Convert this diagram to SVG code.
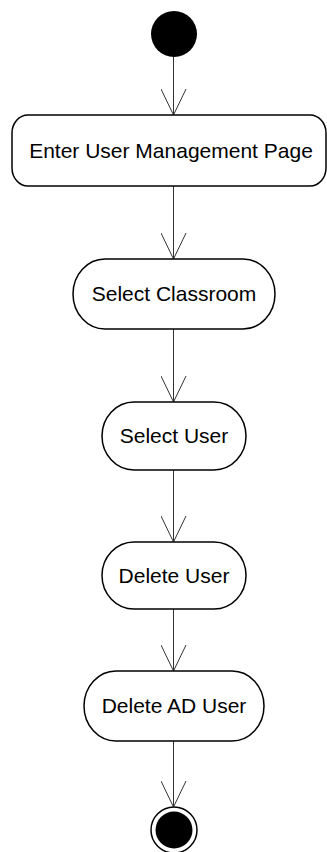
<svg xmlns="http://www.w3.org/2000/svg" width="327" height="852" viewBox="0 0 327 852">
<style>
.node{fill:#fff;stroke:#000;stroke-width:1.5}
.lbl{font-family:"Liberation Sans",Arial,sans-serif;font-size:21px;fill:#000;text-anchor:middle}
.edge{fill:none;stroke:#333;stroke-width:1}
</style>
<defs>
<marker id="open" viewBox="0 0 28 26" refX="27" refY="13" markerWidth="28" markerHeight="26" markerUnits="userSpaceOnUse" orient="auto">
<path d="M1,0.5 L27,13 L1,25.5" fill="none" stroke="#333" stroke-width="1"/>
</marker>
</defs>
<g id="connectors">
<line class="edge" x1="173.5" y1="57" x2="173.5" y2="115" marker-end="url(#open)"/>
<line class="edge" x1="173.5" y1="186" x2="173.5" y2="259" marker-end="url(#open)"/>
<line class="edge" x1="173.5" y1="329" x2="173.5" y2="402" marker-end="url(#open)"/>
<line class="edge" x1="173.5" y1="470" x2="173.5" y2="542" marker-end="url(#open)"/>
<line class="edge" x1="173.5" y1="609" x2="173.5" y2="671" marker-end="url(#open)"/>
<line class="edge" x1="173.5" y1="741" x2="173.5" y2="807" marker-end="url(#open)"/>
</g>
<g id="start">
<circle cx="174" cy="34" r="23" fill="#000"/>
</g>
<g id="enter">
<rect class="node" x="12" y="115" width="314" height="71" rx="16" ry="18"/>
<text class="lbl" x="171" y="158">Enter User Management Page</text>
</g>
<g id="selectClassroom">
<rect class="node" x="73" y="259" width="202" height="70" rx="32" ry="35"/>
<text class="lbl" x="174" y="301">Select Classroom</text>
</g>
<g id="selectUser">
<rect class="node" x="102" y="402" width="144" height="68" rx="32" ry="34"/>
<text class="lbl" x="174" y="443">Select User</text>
</g>
<g id="deleteUser">
<rect class="node" x="102" y="542" width="144" height="67" rx="32" ry="33.5"/>
<text class="lbl" x="174" y="583">Delete User</text>
</g>
<g id="deleteADUser">
<rect class="node" x="84" y="671" width="180" height="70" rx="32" ry="35"/>
<text class="lbl" x="174" y="713">Delete AD User</text>
</g>
<g id="end">
<circle cx="174" cy="830" r="23" fill="#fff" stroke="#000" stroke-width="1.5"/>
<circle cx="174" cy="830" r="18.5" fill="#000"/>
</g>
</svg>
